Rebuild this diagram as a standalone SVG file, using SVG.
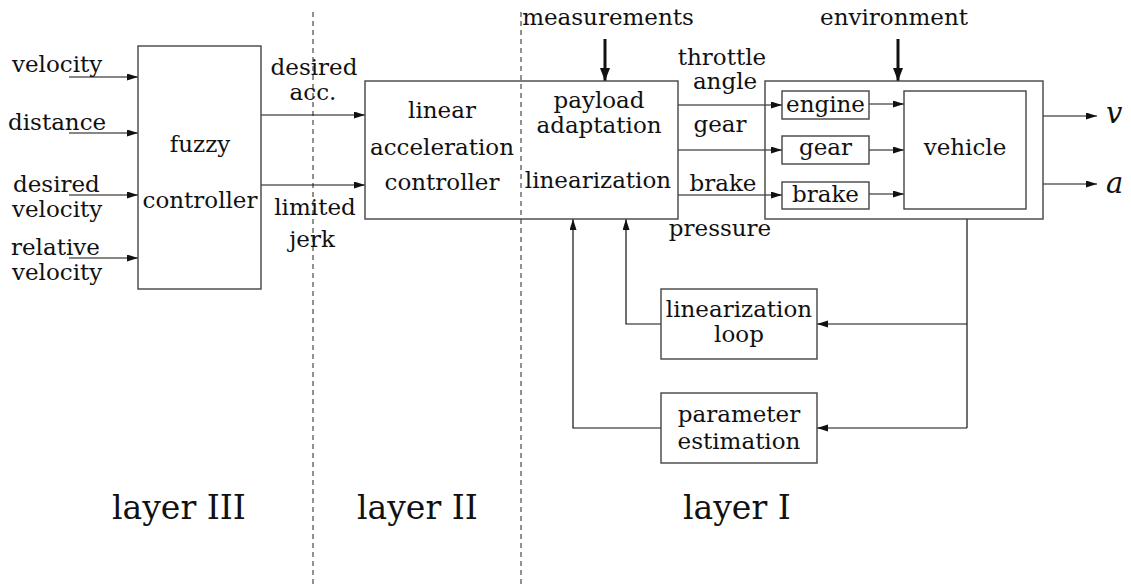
<svg xmlns="http://www.w3.org/2000/svg" width="1131" height="584" viewBox="0 0 1131 584">
<style>
text{font-family:"DejaVu Serif","Liberation Serif",serif;font-size:23px;fill:#111}
.m{text-anchor:middle}
.big{font-size:33px}
.it{font-style:italic;font-size:29px}
.box{fill:none;stroke:#444;stroke-width:1.4}
.ln{fill:none;stroke:#111;stroke-width:1.2}
.thick{fill:none;stroke:#111;stroke-width:3}
.dash{fill:none;stroke:#222;stroke-width:1;stroke-dasharray:5 4}
</style>
<defs>
<marker id="ah" markerUnits="userSpaceOnUse" markerWidth="12" markerHeight="8" refX="11" refY="3.5" orient="auto">
<path d="M0,0 L11,3.5 L0,7 z" fill="#111"/>
</marker>
<marker id="ahb" markerUnits="userSpaceOnUse" markerWidth="14" markerHeight="12" refX="13" refY="5" orient="auto">
<path d="M0,0 L13,5 L0,10 z" fill="#111"/>
</marker>
</defs>
<rect width="1131" height="584" fill="#fff"/>

<g id="layers">
<line class="dash" x1="313" y1="12" x2="313" y2="584"/>
<line class="dash" x1="521" y1="12" x2="521" y2="584"/>
<text class="big" x="112" y="519">layer III</text>
<text class="big" x="357" y="519">layer II</text>
<text class="big" x="683" y="519">layer I</text>
</g>

<g id="connectors">
<line class="ln" x1="69" y1="77" x2="138" y2="77" marker-end="url(#ah)"/>
<line class="ln" x1="69" y1="133" x2="138" y2="133" marker-end="url(#ah)"/>
<line class="ln" x1="69" y1="195" x2="138" y2="195" marker-end="url(#ah)"/>
<line class="ln" x1="69" y1="258" x2="138" y2="258" marker-end="url(#ah)"/>
<line class="ln" x1="261" y1="115" x2="365" y2="115" marker-end="url(#ah)"/>
<line class="ln" x1="261" y1="185" x2="365" y2="185" marker-end="url(#ah)"/>
<line class="thick" x1="605" y1="39" x2="605" y2="81" marker-end="url(#ahb)"/>
<line class="thick" x1="898" y1="39" x2="898" y2="81" marker-end="url(#ahb)"/>
<line class="ln" x1="678" y1="105" x2="782" y2="105" marker-end="url(#ah)"/>
<line class="ln" x1="678" y1="150" x2="782" y2="150" marker-end="url(#ah)"/>
<line class="ln" x1="678" y1="195" x2="782" y2="195" marker-end="url(#ah)"/>
<line class="ln" x1="869" y1="104" x2="904" y2="104" marker-end="url(#ah)"/>
<line class="ln" x1="869" y1="150" x2="904" y2="150" marker-end="url(#ah)"/>
<line class="ln" x1="869" y1="194" x2="904" y2="194" marker-end="url(#ah)"/>
<line class="ln" x1="1043" y1="116" x2="1097" y2="116" marker-end="url(#ah)"/>
<line class="ln" x1="1043" y1="184" x2="1097" y2="184" marker-end="url(#ah)"/>
<polyline class="ln" points="967,219 967,428"/>
<line class="ln" x1="967" y1="324" x2="817" y2="324" marker-end="url(#ah)"/>
<line class="ln" x1="967" y1="428" x2="817" y2="428" marker-end="url(#ah)"/>
<polyline class="ln" points="661,324 626,324 626,219" marker-end="url(#ah)"/>
<polyline class="ln" points="661,428 573,428 573,219" marker-end="url(#ah)"/>
</g>

<g id="input-labels">
<text x="12" y="72">velocity</text>
<text x="8" y="130">distance</text>
<text x="13" y="192">desired</text>
<text x="12" y="217">velocity</text>
<text x="11" y="255">relative</text>
<text x="12" y="280">velocity</text>
</g>

<g id="fuzzy-controller">
<rect class="box" x="138" y="46" width="123" height="243"/>
<text class="m" x="200" y="152">fuzzy</text>
<text class="m" x="200" y="208">controller</text>
</g>

<g id="layer3-outputs">
<text class="m" x="314" y="75">desired</text>
<text class="m" x="313" y="100">acc.</text>
<text class="m" x="315" y="215">limited</text>
<text class="m" x="312" y="247">jerk</text>
</g>

<g id="linear-controller">
<rect class="box" x="365" y="81" width="313" height="138"/>
<text class="m" x="442" y="118">linear</text>
<text class="m" x="442" y="155">acceleration</text>
<text class="m" x="442" y="190">controller</text>
<text class="m" x="599" y="108">payload</text>
<text class="m" x="599" y="133">adaptation</text>
<text class="m" x="598" y="188" font-size="22">linearization</text>
</g>

<g id="measurements"><text class="m" x="608" y="25">measurements</text></g>
<g id="environment"><text class="m" x="894" y="25">environment</text></g>

<g id="signal-labels">
<text class="m" x="722" y="65">throttle</text>
<text class="m" x="725" y="89">angle</text>
<text class="m" x="720" y="132">gear</text>
<text class="m" x="723" y="191">brake</text>
<text class="m" x="720" y="236">pressure</text>
</g>

<g id="plant">
<rect class="box" x="765" y="81" width="278" height="138"/>
</g>
<g id="engine">
<rect class="box" x="782" y="91" width="87" height="28"/>
<text class="m" x="825.5" y="112">engine</text>
</g>
<g id="gear">
<rect class="box" x="782" y="136" width="87" height="28"/>
<text class="m" x="825.5" y="155">gear</text>
</g>
<g id="brake">
<rect class="box" x="782" y="182" width="87" height="27"/>
<text class="m" x="825.5" y="202">brake</text>
</g>
<g id="vehicle">
<rect class="box" x="904" y="91" width="122" height="118"/>
<text class="m" x="965" y="155">vehicle</text>
</g>
<g id="outputs">
<text class="it" x="1106" y="123">v</text>
<text class="it" x="1106" y="193">a</text>
</g>

<g id="linearization-loop">
<rect class="box" x="661" y="289" width="156" height="70"/>
<text class="m" x="739" y="317" font-size="22">linearization</text>
<text class="m" x="739" y="342">loop</text>
</g>
<g id="parameter-estimation">
<rect class="box" x="661" y="393" width="156" height="70"/>
<text class="m" x="739" y="422">parameter</text>
<text class="m" x="739" y="449">estimation</text>
</g>
</svg>
